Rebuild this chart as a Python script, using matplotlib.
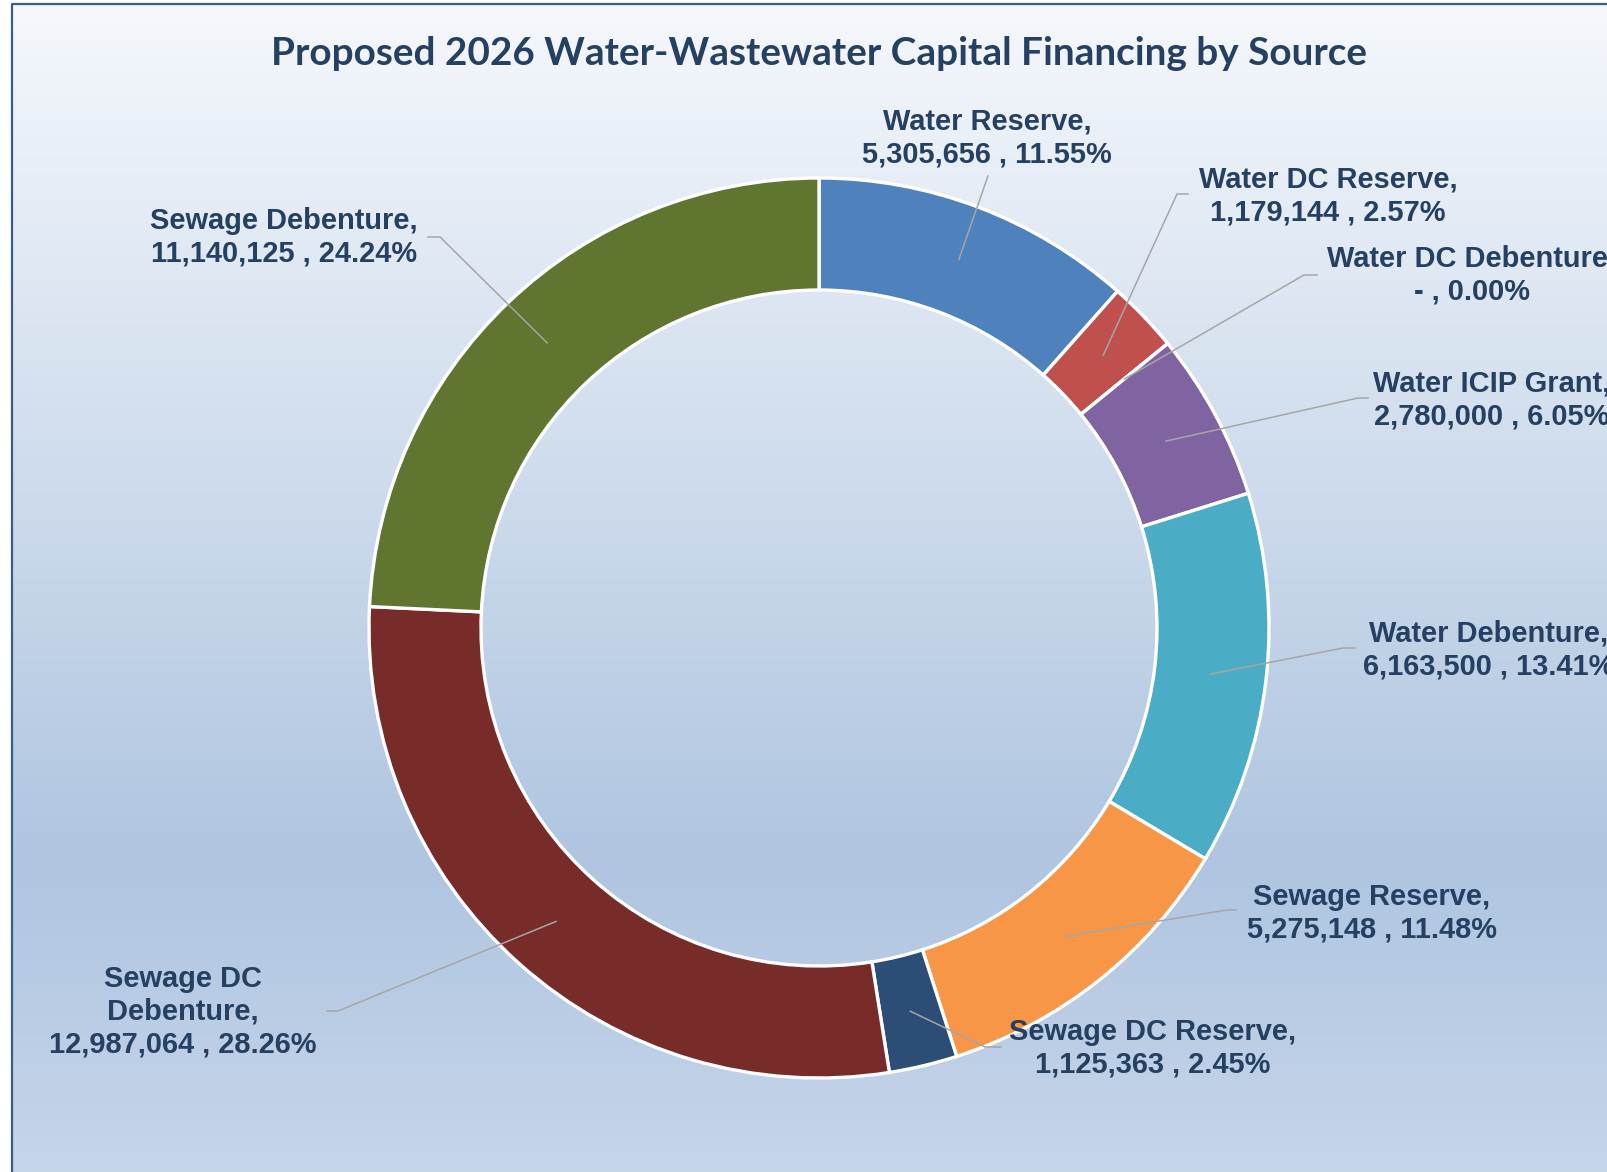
import numpy as np
import matplotlib.pyplot as plt

W, H = 1607, 1172

sources = [
    "Water Reserve", "Water DC Reserve", "Water DC Debenture", "Water ICIP Grant",
    "Water Debenture", "Sewage Reserve", "Sewage DC Reserve", "Sewage DC\nDebenture",
    "Sewage Debenture",
]
amounts = [5305656, 1179144, 0, 2780000, 6163500, 5275148, 1125363, 12987064, 11140125]
colors = ["#4F81BD", "#C0504D", "#9BBB59", "#8064A2", "#4BACC6",
          "#F79646", "#2C4D75", "#772C2A", "#5F7530"]

# label block centres and leader elbows, in pixels from the top-left corner
label_pos = [(987, 138), (1328, 196), (1472, 275), (1492, 400), (1489, 650),
             (1372, 913), (1153, 1048), (183, 1012), (284, 237)]
elbows = [[(988, 176)],
          [(1177, 194), (1188, 194)],
          [(1304, 275), (1317, 275)],
          [(1358, 398), (1368, 398)],
          [(1343, 648), (1355, 648)],
          [(1227, 910), (1236, 910)],
          [(985, 1047), (1001, 1047)],
          [(338, 1011), (327, 1011)],
          [(440, 237), (428, 237)]]

navy = "#254061"
cx, cy, r_out, ring = 819, 628, 450, 112

fig = plt.figure(figsize=(W / 100, H / 100), dpi=100)
ax = fig.add_axes([0, 0, 1, 1])

# vertical gradient fill of the chart area
ys = np.arange(H)
stops_y = [0, 860, H]
stops_c = np.array([[245, 248, 252], [175, 197, 224], [198, 213, 234]]) / 255
grad = np.stack([np.interp(ys, stops_y, stops_c[:, k]) for k in range(3)], axis=-1)
ax.imshow(grad[:, None, :], extent=(12, W, 0, H - 4), aspect="auto", zorder=0)
ax.plot([12, 12, W], [0, H - 4, H - 4], color="#385D8A", lw=1.6, zorder=1)

wedges, _ = ax.pie(amounts, colors=colors, startangle=90, counterclock=False,
                   radius=r_out, center=(cx, H - cy),
                   wedgeprops=dict(width=ring, edgecolor="white", linewidth=2.4))

ax.set_xlim(0, W)
ax.set_ylim(0, H)
ax.set_aspect("auto")
ax.axis("off")

total = sum(amounts)
r_mid = r_out - ring / 2
for w, name, amt, (lx, ly), pts in zip(wedges, sources, amounts, label_pos, elbows):
    ang = np.deg2rad((w.theta1 + w.theta2) / 2)
    x0 = cx + r_mid * np.cos(ang)
    y0 = (H - cy) + r_mid * np.sin(ang)
    xs = [x0] + [p[0] for p in pts]
    ys_l = [y0] + [H - p[1] for p in pts]
    ax.plot(xs, ys_l, color="#A6A6A6", lw=1.1, zorder=5)

    val = f"{amt:,}" if amt else "-"
    pct = amt / total * 100
    ax.text(lx, H - ly, f"{name},\n{val} , {pct:.2f}%", ha="center", va="center",
            multialignment="center", fontsize=20.9, fontweight="bold",
            family="Liberation Sans", color=navy, linespacing=1.22, zorder=6,
            clip_on=False)

title = fig.text(819 / W, 1 - 65 / H,
                 "Proposed 2026 Water-Wastewater Capital Financing by Source",
                 ha="center", va="baseline", fontsize=26, fontweight="bold",
                 family="Lato", color=navy)
# fit the title to its width
fig.canvas.draw()
tw = title.get_window_extent().width
title.set_fontsize(26 * 1098 / tw)

fig.savefig("out.png", dpi=100)
